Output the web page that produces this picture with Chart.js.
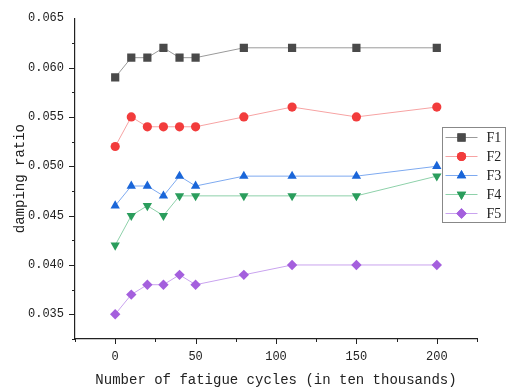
<!DOCTYPE html>
<html>
<head>
<meta charset="utf-8">
<script src="https://cdn.jsdelivr.net/npm/chart.js@4"></script>
<style>
  html, body { margin: 0; padding: 0; background: #fff; }
  #wrap { width: 515px; height: 389px; }
</style>
</head>
<body>
<div id="wrap"><canvas id="myChart" width="515" height="389"></canvas></div>
<script>
// data
let cycles = [0, 10, 20, 30, 40, 50, 80, 110, 150, 200];
let seriesNames = ["F1", "F2", "F3", "F4", "F5"];
let f1 = [0.059, 0.061, 0.061, 0.062, 0.061, 0.061, 0.062, 0.062, 0.062, 0.062];
let f2 = [0.052, 0.055, 0.054, 0.054, 0.054, 0.054, 0.055, 0.056, 0.055, 0.056];
let f3 = [0.046, 0.048, 0.048, 0.047, 0.049, 0.048, 0.049, 0.049, 0.049, 0.050];
let f4 = [0.042, 0.045, 0.046, 0.045, 0.047, 0.047, 0.047, 0.047, 0.047, 0.049];
let f5 = [0.035, 0.037, 0.038, 0.038, 0.039, 0.038, 0.039, 0.040, 0.040, 0.040];
let xTicks = [0, 50, 100, 150, 200];
let yTicks = [0.035, 0.040, 0.045, 0.050, 0.055, 0.060, 0.065];

let monoFont = "'Liberation Mono', monospace";
let serifFont = "'Liberation Serif', serif";

let styles = [
    { marker: '#4a4a4a', line: '#9a9a9a', shape: 'rect', radius: 5.8, rotation: 0 },
    { marker: '#f23c3c', line: '#f7a3a3', shape: 'circle', radius: 4.6, rotation: 0 },
    { marker: '#1a66d9', line: '#7eaaf0', shape: 'triangle', radius: 5.4, rotation: 0 },
    { marker: '#2a9d5c', line: '#8ed1aa', shape: 'triangle', radius: 5.4, rotation: 180 },
    { marker: '#a45fdd', line: '#c9a3ef', shape: 'rectRot', radius: 5.2, rotation: 0 }
];

let toPoints = (values) => {
    let pts = [];
    for (let i = 0; i < cycles.length; i++) {
        pts.push({ x: cycles[i], y: values[i] });
    }
    return pts;
}

let allValues = [f1, f2, f3, f4, f5];
let datasets = [];
for (let i = 0; i < allValues.length; i++) {
    let s = styles[i];
    datasets.push({
        label: seriesNames[i],
        data: toPoints(allValues[i]),
        borderColor: s.line,
        borderWidth: 1,
        backgroundColor: s.marker,
        pointBackgroundColor: s.marker,
        pointBorderColor: s.marker,
        pointBorderWidth: 0,
        pointStyle: s.shape,
        pointRadius: s.radius,
        pointRotation: s.rotation,
        pointHoverRadius: s.radius,
        tension: 0
    });
}

// ticks drawn outward, long for majors and short for minors
let axisTicks = {
    id: 'axisTicks',
    afterDraw(chart) {
        let c = chart.ctx;
        let xs = chart.scales.x, ys = chart.scales.y;
        let area = chart.chartArea;
        c.save();
        c.strokeStyle = '#222';
        c.lineWidth = 1;
        c.beginPath();
        for (let v = -25; v <= 225; v += 25) {
            let px = Math.round(xs.getPixelForValue(v)) + 0.5;
            let len = (v % 50 === 0) ? 5 : 3;
            c.moveTo(px, area.bottom);
            c.lineTo(px, area.bottom + len);
        }
        for (let k = 0; k <= 12; k++) {
            let v = 0.0325 + k * 0.0025;
            let py = Math.round(ys.getPixelForValue(v)) + 0.5;
            let len = (k % 2 === 1) ? 6 : 3;
            c.moveTo(area.left, py);
            c.lineTo(area.left - len, py);
        }
        c.stroke();
        c.restore();
    }
};

// legend box inside the plot, right side
let boxLegend = {
    id: 'boxLegend',
    afterDraw(chart) {
        let c = chart.ctx;
        let left = 442.5, top = 127.5, w = 63, rowH = 19;
        let h = rowH * datasets.length;
        c.save();
        c.fillStyle = '#fff';
        c.fillRect(left, top, w, h);
        c.strokeStyle = '#888';
        c.lineWidth = 1;
        c.strokeRect(left, top, w, h);
        c.font = "14px " + serifFont;
        c.textBaseline = 'middle';
        for (let i = 0; i < datasets.length; i++) {
            let s = styles[i];
            let cy = top + 10 + i * rowH;
            c.strokeStyle = s.line;
            c.beginPath();
            c.moveTo(left + 3, cy);
            c.lineTo(left + 35, cy);
            c.stroke();
            c.fillStyle = s.marker;
            Chart.helpers.drawPoint(c, { pointStyle: s.shape, rotation: s.rotation, radius: s.radius, borderWidth: 0 }, left + 19, cy);
            c.fill();
            c.fillStyle = '#222';
            c.fillText(seriesNames[i], left + 44, cy + 1);
        }
        c.restore();
    }
};

let ctx = document.getElementById('myChart').getContext('2d');
let myChart = new Chart(ctx, {
    type: 'line',
    data: { datasets: datasets },
    options: {
        responsive: false,
        animation: false,
        layout: { padding: { top: 15, right: 38, left: 0, bottom: 0 } },
        plugins: {
            legend: { display: false },
            tooltip: { enabled: false }
        },
        scales: {
            x: {
                type: 'linear',
                min: -25,
                max: 225,
                afterBuildTicks: (scale) => { scale.ticks = xTicks.map(v => ({ value: v })); },
                afterFit: (scale) => { scale.height = 50; },
                grid: { display: false, drawTicks: false },
                border: { display: true, color: '#222', width: 1.2 },
                ticks: {
                    padding: 11,
                    color: '#222',
                    font: { family: monoFont, size: 12 },
                    maxRotation: 0
                },
                title: {
                    display: true,
                    text: 'Number of fatigue cycles (in ten thousands)',
                    color: '#222',
                    font: { family: monoFont, size: 14 },
                    padding: { top: 3, bottom: 0 }
                }
            },
            y: {
                type: 'linear',
                min: 0.0325,
                max: 0.065,
                afterBuildTicks: (scale) => { scale.ticks = yTicks.map(v => ({ value: v })); },
                afterFit: (scale) => { scale.width = 75; },
                grid: { display: false, drawTicks: false },
                border: { display: true, color: '#222', width: 1.2 },
                ticks: {
                    padding: 11,
                    color: '#222',
                    font: { family: monoFont, size: 12 },
                    callback: (v) => v.toFixed(3)
                },
                title: {
                    display: true,
                    text: 'damping ratio',
                    color: '#222',
                    font: { family: monoFont, size: 14 },
                    padding: { top: 12, bottom: 0 }
                }
            }
        }
    },
    plugins: [axisTicks, boxLegend]
});
</script>
</body>
</html>
